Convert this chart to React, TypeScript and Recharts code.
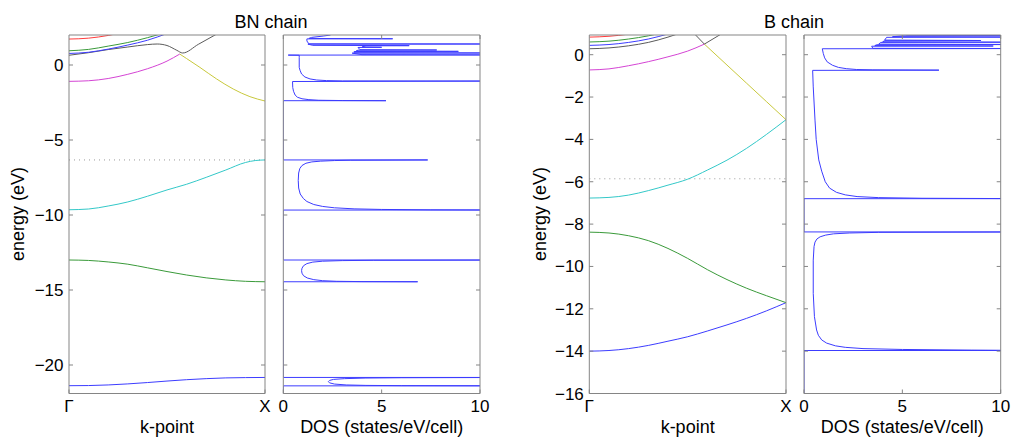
import { LineChart, Line, XAxis, YAxis, ReferenceLine } from 'recharts'

const W = 1011
const H = 437
const AXIS = '#858585'
const FONT = '"Liberation Sans", Arial, Helvetica, sans-serif'

type Pt = [number, number]

// ticks
const K_TICKS = [0, 1]
const K_LABELS = ['Γ', 'X']
const DOS_TICKS = [0, 5, 10]
const BN_E_TICKS = [-20, -15, -10, -5, 0]
const B_E_TICKS = [-16, -14, -12, -10, -8, -6, -4, -2, 0]
const BN_E_RANGE: Pt = [-21.9, 2]
const B_E_RANGE: Pt = [-16, 0.93]
const BN_FERMI = -6.33
const B_FERMI = -5.86

// BN chain bands, [k, E(eV)]
const bnBand1: Pt[] = [[0, -21.38], [0.1, -21.37], [0.2, -21.33], [0.3, -21.26], [0.4, -21.17], [0.5, -21.07], [0.6, -20.98], [0.7, -20.91], [0.8, -20.86], [0.9, -20.84], [1, -20.83]]
const bnBand2: Pt[] = [[0, -13.0], [0.1, -13.03], [0.2, -13.13], [0.3, -13.28], [0.4, -13.52], [0.5, -13.77], [0.6, -14.0], [0.7, -14.19], [0.8, -14.33], [0.9, -14.42], [1, -14.45]]
const bnBand3: Pt[] = [[0, -9.65], [0.1, -9.6], [0.2, -9.4], [0.3, -9.13], [0.4, -8.75], [0.5, -8.33], [0.6, -7.95], [0.7, -7.49], [0.8, -7.0], [0.9, -6.5], [0.95, -6.37], [1, -6.33]]
const bnMagenta: Pt[] = [[0, -1.09], [0.1, -1.05], [0.2, -0.9], [0.3, -0.62], [0.4, -0.25], [0.5, 0.26], [0.565, 0.73]]
const bnYellow: Pt[] = [[0.565, 0.73], [0.6, 0.43], [0.668, -0.16], [0.753, -0.93], [0.838, -1.6], [0.923, -2.11], [1, -2.4]]
const bnGray: Pt[] = [[0, 0.65], [0.1, 0.82], [0.2, 1.03], [0.3, 1.2], [0.4, 1.36], [0.45, 1.4], [0.5, 1.3], [0.55, 0.98], [0.58, 0.8], [0.66, 1.38], [0.745, 2.0], [0.8, 2.4]]
const bnBlueUp: Pt[] = [[0, 0.77], [0.1, 0.85], [0.2, 1.06], [0.3, 1.33], [0.4, 1.65], [0.5, 2.1]]
const bnGreenUp: Pt[] = [[0, 0.95], [0.1, 1.04], [0.2, 1.26], [0.3, 1.5], [0.4, 1.82], [0.5, 2.2]]
const bnRed: Pt[] = [[0, 1.73], [0.1, 1.79], [0.2, 1.97], [0.3, 2.25]]

// B chain bands
const bBlue: Pt[] = [[0, -14.0], [0.1, -13.97], [0.2, -13.88], [0.3, -13.73], [0.4, -13.53], [0.5, -13.32], [0.6, -13.05], [0.7, -12.76], [0.8, -12.45], [0.9, -12.1], [1, -11.71]]
const bGreen: Pt[] = [[0, -8.38], [0.1, -8.42], [0.2, -8.55], [0.3, -8.78], [0.4, -9.15], [0.5, -9.62], [0.6, -10.15], [0.7, -10.62], [0.8, -11.03], [0.9, -11.38], [1, -11.71]]
const bCyan: Pt[] = [[0, -6.77], [0.1, -6.74], [0.2, -6.63], [0.3, -6.42], [0.4, -6.16], [0.5, -5.88], [0.6, -5.45], [0.7, -4.98], [0.8, -4.42], [0.9, -3.77], [1, -3.07]]
const bYellow: Pt[] = [[0.585, 0.5], [0.7, -0.49], [0.8, -1.35], [0.9, -2.21], [1, -3.07]]
const bMagenta: Pt[] = [[0, -0.72], [0.1, -0.67], [0.2, -0.52], [0.3, -0.33], [0.4, -0.1], [0.5, 0.17], [0.585, 0.5]]
const bGrayV: Pt[] = [[0.53, 1.03], [0.585, 0.5], [0.68, 1.03]]
const bGray: Pt[] = [[0, 0.28], [0.1, 0.32], [0.2, 0.42], [0.3, 0.58], [0.4, 0.83], [0.5, 1.15]]
const bBlueUp: Pt[] = [[0, 0.44], [0.1, 0.48], [0.2, 0.58], [0.3, 0.74], [0.4, 0.98]]
const bGreenUp: Pt[] = [[0, 0.6], [0.1, 0.64], [0.2, 0.74], [0.3, 0.89], [0.4, 1.1]]
const bRed: Pt[] = [[0, 0.83], [0.1, 0.87], [0.2, 0.97], [0.3, 1.12]]

// DOS, [E(eV), states/eV/cell] in energy order; 12 = off-scale spike
const bnDos: Pt[] = [
  [-21.9, 0], [-21.39, 0], [-21.39, 12], [-21.375, 6], [-21.36, 4.2], [-21.33, 3.2], [-21.27, 2.6], [-21.19, 2.35], [-21.11, 2.29], [-21.03, 2.35], [-20.96, 2.55], [-20.91, 3.1], [-20.87, 4.2], [-20.85, 6], [-20.83, 12], [-20.83, 0],
  [-14.45, 0], [-14.45, 6.83], [-14.44, 4.0], [-14.42, 2.7], [-14.38, 2.0], [-14.31, 1.55], [-14.2, 1.22], [-14.05, 1.03], [-13.88, 0.95], [-13.71, 0.93], [-13.55, 0.95], [-13.38, 1.03], [-13.24, 1.2], [-13.14, 1.5], [-13.08, 2.0], [-13.04, 3.0], [-13.02, 4.6], [-13.0, 12], [-13.0, 0],
  [-9.67, 0], [-9.67, 12], [-9.655, 7.5], [-9.63, 5.0], [-9.59, 3.6], [-9.52, 2.6], [-9.43, 2.0], [-9.3, 1.55], [-9.1, 1.2], [-8.9, 1.02], [-8.6, 0.86], [-8.2, 0.78], [-7.7, 0.76], [-7.2, 0.78], [-6.9, 0.84], [-6.7, 0.95], [-6.55, 1.15], [-6.46, 1.45], [-6.41, 1.9], [-6.37, 2.6], [-6.35, 3.4], [-6.33, 7.34], [-6.33, 0],
  [-2.38, 0], [-2.38, 5.22], [-2.37, 3.0], [-2.35, 1.8], [-2.31, 1.3], [-2.25, 0.95], [-2.15, 0.72], [-2.0, 0.6], [-1.75, 0.52], [-1.5, 0.48], [-1.1, 0.47], [-1.07, 12],
  [-1.06, 3.0], [-1.04, 2.2], [-1.0, 1.7], [-0.93, 1.36], [-0.8, 1.1], [-0.6, 0.93], [-0.35, 0.85], [-0.16, 0.81], [0.5, 0.81], [0.65, 0.81], [0.66, 0.25], [0.67, 12],
  [0.69, 4.0], [0.79, 3.5], [0.8, 12], [0.82, 3.6], [0.9, 3.6], [0.91, 8.9], [0.93, 3.7], [0.99, 3.8], [1.0, 7.8], [1.02, 3.9], [1.17, 3.8], [1.18, 5.0], [1.2, 4.0], [1.28, 4.2], [1.29, 6.4], [1.31, 1.5], [1.39, 1.25], [1.4, 12], [1.41, 1.3], [1.6, 1.2], [1.74, 1.2], [1.75, 5.56], [1.77, 1.3], [1.84, 1.44], [1.93, 2.03], [2.0, 2.4],
]
const bDos: Pt[] = [
  [-16, 0], [-13.97, 0], [-13.97, 12], [-13.95, 8.5], [-13.92, 5.0], [-13.88, 3.0], [-13.82, 2.1], [-13.75, 1.6], [-13.62, 1.15], [-13.47, 0.9], [-13.25, 0.73], [-13.0, 0.64], [-12.37, 0.53], [-11.27, 0.47], [-9.7, 0.47], [-9.06, 0.51], [-8.85, 0.56], [-8.7, 0.66], [-8.6, 0.82], [-8.52, 1.1], [-8.46, 1.5], [-8.42, 2.3], [-8.39, 3.8], [-8.37, 12], [-8.37, 0],
  [-6.8, 0], [-6.8, 12], [-6.78, 6.0], [-6.75, 3.8], [-6.7, 2.7], [-6.62, 2.1], [-6.5, 1.65], [-6.3, 1.3], [-6.0, 1.08], [-5.5, 0.9], [-4.97, 0.75], [-4.0, 0.62], [-3.09, 0.56], [-1.52, 0.47], [-0.74, 0.44], [-0.73, 6.86],
  [-0.715, 3.5], [-0.7, 2.68], [-0.66, 2.15], [-0.6, 1.75], [-0.5, 1.45], [-0.34, 1.18], [-0.15, 1.05], [0.06, 0.98], [0.28, 0.93], [0.29, 12],
  [0.3, 3.5], [0.4, 3.44], [0.41, 9.62], [0.43, 3.6], [0.47, 3.7], [0.48, 12], [0.5, 3.8], [0.58, 3.9], [0.59, 12], [0.61, 4.0], [0.66, 4.1], [0.67, 9.0], [0.69, 4.1], [0.82, 4.2], [0.83, 12], [0.85, 4.5], [0.89, 5.0], [0.9, 12], [0.93, 5.2],
]

const C = {
  blue: '#3c3cff', green: '#3a9a3a', red: '#ff3c3c', cyan: '#33c8c8',
  magenta: '#d444d4', yellow: '#c8c83c', gray: '#5a5a5a',
}

interface Band { pts: Pt[]; color: string; linear?: boolean }

const BN_BANDS: Band[] = [
  { pts: bnBand1, color: C.blue }, { pts: bnBand2, color: C.green }, { pts: bnBand3, color: C.cyan },
  { pts: bnMagenta, color: C.magenta }, { pts: bnYellow, color: C.yellow }, { pts: bnGray, color: C.gray },
  { pts: bnBlueUp, color: C.blue }, { pts: bnGreenUp, color: C.green }, { pts: bnRed, color: C.red },
]
const B_BANDS: Band[] = [
  { pts: bBlue, color: C.blue }, { pts: bGreen, color: C.green }, { pts: bCyan, color: C.cyan },
  { pts: bYellow, color: C.yellow }, { pts: bMagenta, color: C.magenta }, { pts: bGrayV, color: C.gray, linear: true },
  { pts: bGray, color: C.gray }, { pts: bBlueUp, color: C.blue }, { pts: bGreenUp, color: C.green }, { pts: bRed, color: C.red },
]

interface Frame { left: number; right: number; top: number; bottom: number }

const BN_BAND_FRAME: Frame = { left: 69, right: 265, top: 35, bottom: 393.5 }
const BN_DOS_FRAME: Frame = { left: 283.3, right: 480, top: 35, bottom: 393.5 }
const B_BAND_FRAME: Frame = { left: 589.3, right: 786, top: 35, bottom: 393.5 }
const B_DOS_FRAME: Frame = { left: 804, right: 1000.7, top: 35, bottom: 393.5 }

const margins = (f: Frame, yAxisW: number) => ({
  top: f.top - 5, right: W - f.right - 5, bottom: H - f.bottom - 40, left: f.left - yAxisW,
})
const minus = (v: number) => String(v).replace('-', '\u2212')
const blank = () => ''
const tickText = { fill: '#000', fontSize: 17 }
const labelText = { fill: '#000', fontSize: 18 }
const layer = { position: 'absolute' as const, left: 0, top: 0 }

function BandPanel({ frame, range, ticks, bands, fermi }: { frame: Frame; range: Pt; ticks: number[]; bands: Band[]; fermi: number }) {
  return (
    <div style={layer}>
      <LineChart width={W} height={H} margin={margins(frame, 60)}>
        <XAxis type="number" dataKey="k" domain={[0, 1]} ticks={K_TICKS} interval={0} allowDataOverflow height={40}
          tickFormatter={(v: number) => K_LABELS[K_TICKS.indexOf(v)]} tickSize={-4} tickMargin={10.5} stroke={AXIS} tick={tickText}
          label={{ value: 'k-point', position: 'insideBottom', offset: 0.5, ...labelText }} />
        <XAxis xAxisId="top" orientation="top" type="number" domain={[0, 1]} ticks={K_TICKS} allowDataOverflow height={5}
          tickSize={-4} tickFormatter={blank} stroke={AXIS} />
        <YAxis type="number" domain={range} ticks={ticks} interval={0} allowDataOverflow width={60}
          tickSize={-4} tickMargin={9.5} tickFormatter={minus} stroke={AXIS} tick={tickText} />
        <YAxis yAxisId="right" orientation="right" type="number" domain={range} ticks={ticks} allowDataOverflow width={5}
          tickSize={-4} tickFormatter={blank} stroke={AXIS} />
        <ReferenceLine y={fermi} stroke="#9a9a9a" strokeDasharray="1 4" />
        {bands.map((b, i) => (
          <Line key={i} data={b.pts.map(([k, e]) => ({ k, e }))} dataKey="e" type={b.linear ? 'linear' : 'monotone'}
            stroke={b.color} strokeWidth={1} dot={false} isAnimationActive={false} />
        ))}
      </LineChart>
    </div>
  )
}

// vertical layout puts the low end of a numeric Y axis at the top, hence `reversed`
function DosPanel({ frame, range, ticks, dos }: { frame: Frame; range: Pt; ticks: number[]; dos: Pt[] }) {
  const data = dos.map(([e, d]) => ({ e, d }))
  return (
    <div style={layer}>
      <LineChart layout="vertical" width={W} height={H} margin={margins(frame, 5)} data={data}>
        <XAxis type="number" domain={[0, 10]} ticks={DOS_TICKS} interval={0} allowDataOverflow height={40}
          tickSize={-4} tickMargin={10.5} stroke={AXIS} tick={tickText}
          label={{ value: 'DOS (states/eV/cell)', position: 'insideBottom', offset: 0.5, ...labelText }} />
        <XAxis xAxisId="top" orientation="top" type="number" domain={[0, 10]} ticks={DOS_TICKS} allowDataOverflow height={5}
          tickSize={-4} tickFormatter={blank} stroke={AXIS} />
        <YAxis type="number" dataKey="e" domain={range} ticks={ticks} interval={0} allowDataOverflow reversed width={5}
          tickSize={-4} tickFormatter={blank} stroke={AXIS} />
        <YAxis yAxisId="right" orientation="right" type="number" dataKey="e" domain={range} ticks={ticks} interval={0}
          allowDataOverflow reversed width={5} tickSize={-4} tickFormatter={blank} stroke={AXIS} />
        <Line dataKey="d" type="linear" stroke={C.blue} strokeWidth={1} dot={false} isAnimationActive={false} />
      </LineChart>
    </div>
  )
}

export default function App() {
  return (
    <div style={{ position: 'absolute', left: 0, top: 0, width: W, height: H, background: '#fff', fontFamily: FONT }}>
      <BandPanel frame={BN_BAND_FRAME} range={BN_E_RANGE} ticks={BN_E_TICKS} bands={BN_BANDS} fermi={BN_FERMI} />
      <DosPanel frame={BN_DOS_FRAME} range={BN_E_RANGE} ticks={BN_E_TICKS} dos={bnDos} />
      <BandPanel frame={B_BAND_FRAME} range={B_E_RANGE} ticks={B_E_TICKS} bands={B_BANDS} fermi={B_FERMI} />
      <DosPanel frame={B_DOS_FRAME} range={B_E_RANGE} ticks={B_E_TICKS} dos={bDos} />
      <svg width={W} height={H} style={{ ...layer, pointerEvents: 'none' }}>
        <g fontSize={18} fill="#000" textAnchor="middle">
          <text x={271} y={28}>BN chain</text>
          <text x={794} y={28}>B chain</text>
          <text transform="translate(24,214) rotate(-90)">energy (eV)</text>
          <text transform="translate(546,214) rotate(-90)">energy (eV)</text>
        </g>
      </svg>
    </div>
  )
}
